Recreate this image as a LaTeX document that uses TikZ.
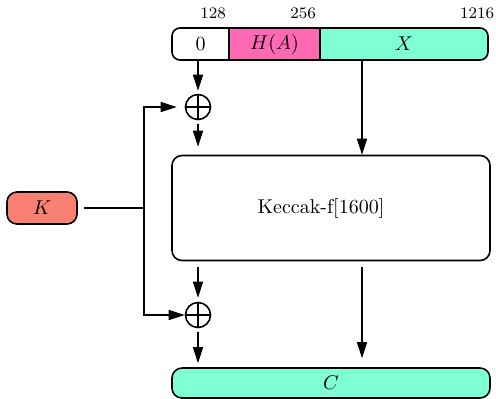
\documentclass[tikz,border=0pt]{standalone}
\usetikzlibrary{arrows.meta,positioning,backgrounds}
\definecolor{regaqua}{RGB}{127,255,212}
\definecolor{reghash}{RGB}{255,105,180}
\definecolor{regkey}{RGB}{250,128,114}

\begin{document}
\begin{tikzpicture}[x=0.5pt,y=-0.5pt,thick,
    cell/.style={minimum height=16pt,inner sep=0pt,outer sep=0pt},
    bits/.style={font=\footnotesize,inner sep=0pt},
    keybox/.style={draw,fill=regkey,rounded corners=5pt,minimum width=35pt,minimum height=16pt},
    bigbox/.style={draw,rounded corners=5pt,minimum width=159pt},
    xorop/.style={circle,draw,minimum size=12.5pt,inner sep=0pt,
        path picture={\draw (path picture bounding box.north) -- (path picture bounding box.south)
            (path picture bounding box.west) -- (path picture bounding box.east);}},
    flow/.style={-{Triangle[length=8pt,width=5pt]}}]
    \useasboundingbox (0,0) rectangle (496,398);

    \node[cell,minimum width=28.5pt] (zero) at (200.5,44) {$0$};
    \node[cell,minimum width=45.5pt,right=0pt of zero] (hash) {$H(A)$};
    \node[cell,minimum width=84pt,right=0pt of hash] (xcell) {$X$};
    \begin{scope}[on background layer]
        \fill[reghash] (hash.south west) rectangle (hash.north east);
        \fill[regaqua,rounded corners=4pt] (xcell.south west) rectangle (xcell.north east);
        \fill[regaqua] (xcell.south west) rectangle (xcell.north);
    \end{scope}
    \draw[rounded corners=4pt] (zero.south west) rectangle (xcell.north east);
    \draw (hash.north west) -- (hash.south west) (hash.north east) -- (hash.south east);

    \node[bits] (b128) at (213,13) {128};
    \node[bits] (b256) at (303,13) {256};
    \node[bits] (b1216) at (477,13) {1216};

    \node[xorop] (xor1) at (198,107) {};
    \node[bigbox,minimum height=52.5pt] (keccak) at (331,208) {};
    \node (keccaktxt) at (321,208) {Keccak-f[1600]};
    \node[xorop] (xor2) at (198,315) {};
    \node[bigbox,fill=regaqua,minimum height=15pt] (cbox) at (331,383) {$C$};
    \node[keybox] (key) at (42,208) {$K$};

    \coordinate (xin) at (362,60);
    \coordinate (split) at (144,208);

    \draw[flow,shorten >=1.5pt] (zero.south -| xor1) -- (xor1);
    \draw[flow,shorten <=2pt,shorten >=4pt] (xor1) -- (xor1 |- keccak.north);
    \draw[flow] (xin) -- (xin |- keccak.north);
    \draw[flow,shorten <=3pt,shorten >=2pt] (keccak.south -| xor2) -- (xor2);
    \draw[flow,shorten <=2pt,shorten >=2pt] (xor2) -- (xor2 |- cbox.north);
    \draw[flow,shorten <=3pt,shorten >=4.5pt] (keccak.south -| xin) -- (cbox.north -| xin);

    \draw[shorten <=3pt] (key) -- (split);
    \draw[flow,shorten >=4pt] (split) |- (xor1);
    \draw[flow] (split) |- (xor2);
    %\draw (split) circle (1pt);
\end{tikzpicture}
\end{document}
